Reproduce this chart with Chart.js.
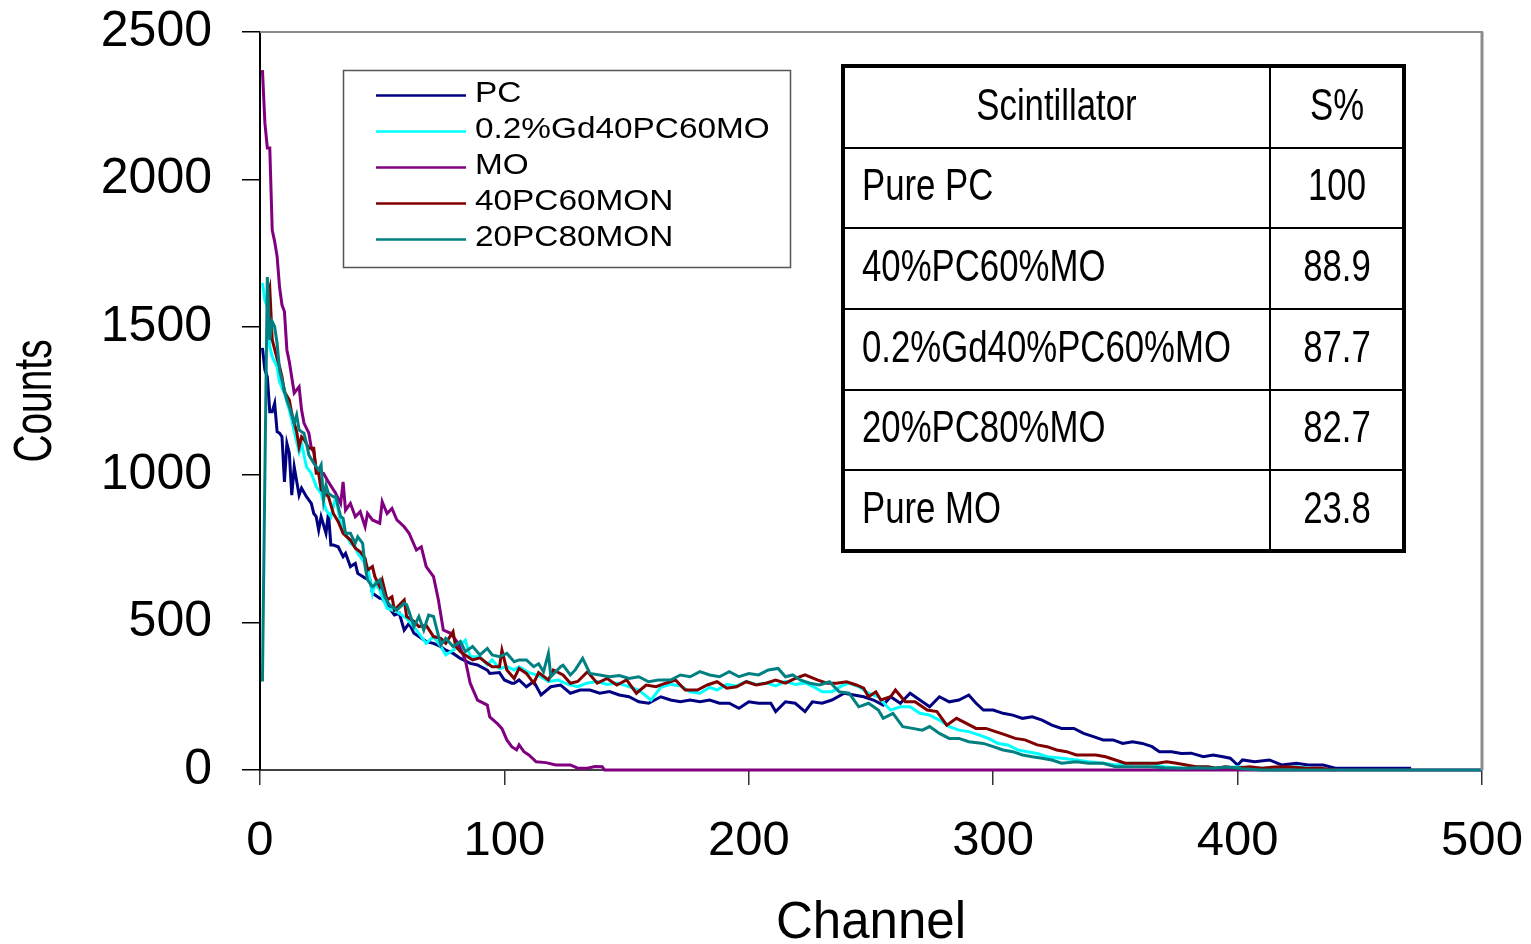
<!DOCTYPE html>
<html>
<head>
<meta charset="utf-8">
<script src="https://cdn.jsdelivr.net/npm/chart.js@4.4.1/dist/chart.umd.min.js"></script>
<style>
html,body{margin:0;padding:0;background:#fff;}
#wrap{position:relative;width:1531px;height:944px;}
</style>
</head>
<body>
<div id="wrap"><canvas id="c" width="1531" height="944"></canvas></div>
<script>
// ---------- data ----------
const seriesNames  = ['PC', '0.2%Gd40PC60MO', 'MO', '40PC60MON', '20PC80MON'];
const seriesColors = ['#000080', '#00FFFF', '#800080', '#800000', '#008080'];

const pcChannel = [1,2,3,4,5,6,7,8,9,10,11,12,13,14,16,17,19,21,22,23,24,25,27,28,29,30,32,34,35,37,39,40,43,45,46,49,50,52,55,57,59,61,63,65,68,71,74,76,79,82,86,89,93,94,98,100,103,104,106,109,112,115,119,123,127,131,135,139,143,147,151,155,159,164,168,172,176,180,184,188,192,196,200,204,209,211,215,219,223,226,230,234,239,243,247,251,255,258,262,266,270,274,278,282,286,290,293,296,300,304,308,312,316,320,324,328,333,337,341,345,349,353,357,361,365,368,373,377,381,386,390,394,397,400,402,407,413,418,424,429,435,440,446,459,471];
const pcCounts  = [1430,1355,1332,1214,1214,1242,1146,1141,1129,976,1106,1073,931,1027,931,955,926,903,869,858,813,858,802,869,762,762,756,723,734,689,700,666,650,644,599,582,581,559,525,531,474,497,463,452,435,429,418,406,395,378,361,356,338,327,330,305,294,294,305,282,300,254,282,288,260,271,271,260,266,254,248,231,226,248,237,231,237,231,237,226,226,209,231,226,226,198,231,226,198,231,226,237,260,254,248,237,220,248,226,260,237,214,248,231,237,254,226,203,203,192,186,175,180,169,152,141,141,124,113,102,102,90,96,90,79,62,62,56,57,45,51,45,40,17,34,28,34,17,23,17,17,6,6,6,6];

const gdChannel = [1,2,3,4,5,7,8,10,12,13,14,16,17,19,21,23,25,27,29,31,33,35,37,39,40,42,44,46,47,49,50,52,56,60,64,68,71,74,76,79,82,84,86,90,93,95,98,101,104,106,110,114,118,122,126,130,134,138,142,146,150,155,160,164,168,172,176,180,184,187,191,195,199,203,207,211,215,219,223,227,230,234,238,241,245,249,253,256,258,262,266,270,274,278,282,286,290,294,298,302,306,310,314,318,322,328,334,339,345,350,357,364,370,377,385,392,400,408,416,424,430,434];
const gdCounts  = [1650,1590,1570,1434,1400,1366,1315,1276,1219,1186,1146,1078,1107,1027,1005,960,937,881,858,926,836,802,768,756,734,711,689,599,632,610,587,548,536,514,474,429,452,418,390,406,423,440,384,384,356,373,344,350,339,350,330,320,300,305,290,282,295,300,290,295,285,271,237,280,290,285,265,260,280,271,290,285,300,290,295,285,300,290,295,280,265,265,285,294,282,260,248,220,203,214,214,192,186,169,147,135,130,119,107,90,85,68,62,56,45,40,34,28,23,17,23,23,11,6,11,6,11,6,6,11,6,0];

const moChannel = [1,2,3,4,5,6,7,8,9,10,11,12,14,16,17,18,20,21,22,23,26,28,31,33,34,35,37,39,41,43,44,46,49,50,52,54,56,59,61,64,66,68,71,73,75,78,81,84,86,89,93,94,97,99,101,103,105,106,108,110,113,117,121,127,130,134,137,140,141,500];
const moCounts  = [2371,2192,2107,2107,1829,1790,1740,1636,1575,1553,1423,1383,1277,1298,1220,1175,1141,1090,1078,1016,1005,976,937,903,976,880,903,858,875,824,869,847,836,909,869,886,847,824,802,745,756,689,655,576,474,463,430,373,294,237,220,180,158,140,102,79,68,85,62,51,28,25,17,17,6,6,12,11,0,0];

const pc40Channel = [3,4,5,7,8,9,10,12,13,14,15,16,17,18,20,22,23,24,25,28,30,32,34,37,39,41,43,44,46,47,49,50,52,54,55,59,60,63,65,68,71,74,76,79,80,82,85,87,90,93,95,98,99,101,104,106,109,112,114,118,120,124,127,130,134,138,142,146,150,154,158,162,166,170,174,179,183,187,191,195,199,203,207,211,215,219,223,228,232,236,240,244,247,249,252,254,258,260,264,268,273,277,281,285,289,293,297,301,305,309,313,318,322,326,330,334,338,342,346,350,354,358,362,367,371,375,379,383,388,391,395,399,405,410,415,421,428,434,440];
const pc40Counts  = [1600,1633,1457,1394,1366,1332,1281,1253,1208,1175,1146,1095,1129,1120,1090,1090,1005,1005,949,926,869,841,802,779,751,739,717,677,689,655,621,644,576,587,542,576,520,503,486,490,452,446,429,469,420,401,384,373,380,361,350,350,406,339,310,344,327,294,330,305,339,322,294,300,333,294,310,288,305,260,288,282,294,305,271,271,288,299,277,282,299,288,294,305,294,310,322,305,294,294,299,288,277,248,265,237,248,271,231,231,203,198,152,175,158,141,141,130,119,107,102,85,79,68,62,51,51,51,45,34,23,23,23,23,28,23,17,11,11,6,11,6,11,6,10,11,6,6,0];

const pc20Channel = [1,2,3,4,5,6,7,8,9,11,12,14,15,16,17,18,19,20,22,24,25,26,27,28,30,31,33,34,35,37,39,40,42,43,44,46,47,49,51,53,56,59,60,61,63,65,67,69,71,74,76,79,82,84,87,90,93,95,98,101,104,106,109,112,114,116,118,119,123,124,127,129,132,135,139,143,147,151,155,159,163,168,172,176,180,184,188,192,196,200,204,208,212,215,218,221,225,229,233,237,241,245,249,253,255,259,263,267,271,274,278,282,286,290,296,300,304,308,312,316,320,324,328,334,339,345,350,357,364,370,378,384,390,396,402,410,500];
const pc20Counts  = [300,1000,1670,1457,1519,1502,1445,1355,1321,1253,1231,1175,1203,1152,1146,1141,1107,1067,1039,1016,1033,915,965,937,926,926,858,853,802,802,768,790,768,689,644,621,627,644,587,559,542,565,560,536,486,520,474,525,520,423,446,418,435,401,418,390,412,390,384,395,367,373,373,350,360,333,395,316,350,355,322,339,378,327,322,316,320,310,316,299,305,305,322,316,333,322,316,333,316,327,322,339,344,316,322,305,294,288,299,265,260,214,226,203,175,192,147,141,135,147,124,107,107,96,90,79,68,62,51,45,40,34,23,28,23,23,11,11,11,8,6,8,6,10,4,0,0];

const xTicks = [0, 100, 200, 300, 400, 500];
const yTicks = [0, 500, 1000, 1500, 2000, 2500];
const xTitle = 'Channel';
const yTitle = 'Counts';

const tableHeader       = ['Scintillator', 'S%'];
const tableScintillator = ['Pure PC', '40%PC60%MO', '0.2%Gd40%PC60%MO', '20%PC80%MO', 'Pure MO'];
const tableS            = ['100', '88.9', '87.7', '82.7', '23.8'];

// ---------- build ----------
const channelSets = [pcChannel, gdChannel, moChannel, pc40Channel, pc20Channel];
const countSets   = [pcCounts,  gdCounts,  moCounts,  pc40Counts,  pc20Counts];

function pairUp(ch, ct) {
  const n = Math.min(ch.length, ct.length);
  const out = [];
  for (let i = 0; i < n; i++) out.push({x: ch[i], y: ct[i]});
  return out;
}

const datasets = seriesNames.map((name, i) => ({
  label: name,
  data: pairUp(channelSets[i], countSets[i]),
  borderColor: seriesColors[i],
  backgroundColor: seriesColors[i],
  borderWidth: 3,
  pointRadius: 0,
  tension: 0,
  fill: false,
  clip: 6,
  order: seriesNames.length - i
}));

const FONT = "'Liberation Sans', Arial, sans-serif";

function condensedText(ctx, text, x, y, align, sx) {
  ctx.save();
  ctx.translate(x, y);
  ctx.scale(sx, 1);
  ctx.textAlign = align;
  ctx.fillText(text, 0, 0);
  ctx.restore();
}

function noOverhang(s) {
  s.paddingTop = 0; s.paddingBottom = 0; s.paddingLeft = 0; s.paddingRight = 0;
}

const decor = {
  id: 'decor',
  afterDraw(chart) {
    const ctx = chart.ctx;
    const a = chart.chartArea;
    ctx.save();
    // plot frame (top & right)
    ctx.strokeStyle = '#8c8c8c';
    ctx.lineWidth = 2;
    ctx.beginPath(); ctx.moveTo(a.left, a.top); ctx.lineTo(a.right + 1, a.top); ctx.stroke();
    ctx.lineWidth = 3;
    ctx.beginPath(); ctx.moveTo(a.right, a.top); ctx.lineTo(a.right, a.bottom); ctx.stroke();

    // y-axis title (condensed, rotated)
    ctx.fillStyle = '#000';
    ctx.font = '54px ' + FONT;
    ctx.textBaseline = 'alphabetic';
    ctx.save();
    ctx.translate(51, (a.top + a.bottom) / 2);
    ctx.rotate(-Math.PI / 2);
    ctx.scale(0.72, 1);
    ctx.textAlign = 'center';
    ctx.fillText(yTitle, 0, 0);
    ctx.restore();

    // legend box
    const lx = 343.5, ly = 70.5, lw = 447, lh = 197;
    ctx.fillStyle = '#fff';
    ctx.fillRect(lx, ly, lw, lh);
    ctx.strokeStyle = '#555';
    ctx.lineWidth = 1.5;
    ctx.strokeRect(lx, ly, lw, lh);
    ctx.textBaseline = 'alphabetic';
    ctx.font = '29px ' + FONT;
    ctx.fillStyle = '#000';
    chart.data.datasets.forEach((ds, i) => {
      const yLine = 95.5 + i * 36;
      ctx.strokeStyle = ds.borderColor;
      ctx.lineWidth = 2.5;
      ctx.beginPath(); ctx.moveTo(376, yLine); ctx.lineTo(466, yLine); ctx.stroke();
      condensedText(ctx, ds.label, 475, 102 + i * 36, 'left', 1.15);
    });

    // table
    const tx0 = 843, tx1 = 1404, tcol = 1270, ty0 = 66, ty1 = 551;
    const rowLines = [148, 228, 309, 390, 470];
    ctx.strokeStyle = '#000';
    ctx.lineWidth = 2;
    rowLines.forEach(y => { ctx.beginPath(); ctx.moveTo(tx0, y); ctx.lineTo(tx1, y); ctx.stroke(); });
    ctx.beginPath(); ctx.moveTo(tcol, ty0); ctx.lineTo(tcol, ty1); ctx.stroke();
    ctx.lineWidth = 4;
    ctx.strokeRect(tx0, ty0, tx1 - tx0, ty1 - ty0);
    ctx.fillStyle = '#000';
    ctx.font = '44px ' + FONT;
    const c1 = (tx0 + tcol) / 2, c2 = (tcol + tx1) / 2;
    condensedText(ctx, tableHeader[0], c1, 120, 'center', 0.79);
    condensedText(ctx, tableHeader[1], c2, 120, 'center', 0.79);
    const tops = [148, 228, 309, 390, 470];
    const bots = [228, 309, 390, 470, 551];
    tableScintillator.forEach((name, i) => {
      const yb = (tops[i] + bots[i]) / 2 + 12;
      condensedText(ctx, name, 862, yb, 'left', 0.79);
      condensedText(ctx, tableS[i], c2, yb, 'center', 0.79);
    });
    ctx.restore();
  }
};

new Chart(document.getElementById('c'), {
  type: 'line',
  data: { datasets },
  options: {
    responsive: false,
    devicePixelRatio: 1,
    animation: false,
    layout: { padding: { top: 32, right: 49, left: 0, bottom: 0 } },
    plugins: { legend: { display: false }, tooltip: { enabled: false }, title: { display: false } },
    scales: {
      x: {
        type: 'linear', min: 0, max: 500,
        afterBuildTicks: s => { s.ticks = xTicks.map(v => ({ value: v })); },
        afterFit: s => { s.height = 174; noOverhang(s); },
        ticks: { font: { family: FONT, size: 49 }, color: '#000', padding: 27, maxRotation: 0, autoSkip: false, callback: v => String(v) },
        grid: { drawOnChartArea: false, drawTicks: true, tickLength: 15, color: '#333', lineWidth: 1.5 },
        border: { display: true, color: '#404040', width: 2 },
        title: { display: true, text: xTitle, color: '#000', font: { family: FONT, size: 51, lineHeight: 0.8 }, padding: { top: 0, bottom: 0 } }
      },
      y: {
        type: 'linear', min: 0, max: 2500,
        afterBuildTicks: s => { s.ticks = yTicks.map(v => ({ value: v })); },
        afterFit: s => { s.width = 260; noOverhang(s); },
        ticks: { font: { family: FONT, size: 50 }, color: '#000', padding: 30, callback: v => String(v) },
        grid: { drawOnChartArea: false, drawTicks: true, tickLength: 18, color: '#000', lineWidth: 1.5 },
        border: { display: true, color: '#000', width: 2 },
        title: { display: false }
      }
    }
  },
  plugins: [decor]
});
</script>
</body>
</html>
